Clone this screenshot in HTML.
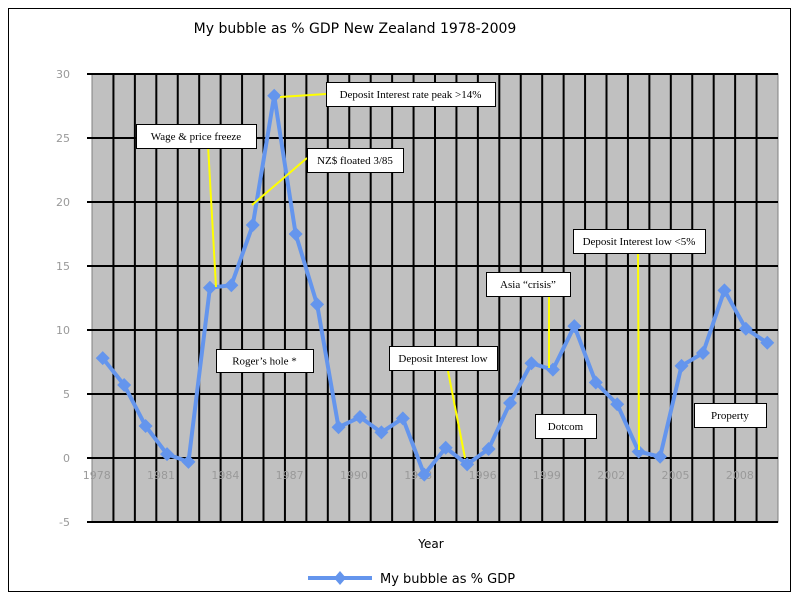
<!DOCTYPE html>
<html><head><meta charset="utf-8"><style>
body{margin:0;background:#fff}
svg text{font-family:"DejaVu Sans","Liberation Sans",sans-serif}
.ann{font-family:"Liberation Serif",serif;font-size:11px}
</style></head><body>
<svg width="800" height="600" xmlns="http://www.w3.org/2000/svg">
<rect x="8.5" y="8.5" width="782" height="583" fill="#fff" stroke="#000"/>
<text x="355" y="33" text-anchor="middle" font-size="14">My bubble as % GDP New Zealand 1978-2009</text>
<rect x="92" y="74" width="686" height="448" fill="#c0c0c0" stroke="#808080"/>
<g id="grid"></g>
<g id="ylab"></g>
<g id="xlab"></g>
<g id="series"></g>
<g stroke="#ffff00" stroke-width="2">
<line x1="280" y1="97" x2="326" y2="94"/>
<line x1="208" y1="145" x2="216" y2="287"/>
<line x1="307" y1="158" x2="252" y2="205"/>
<line x1="448" y1="371" x2="465" y2="458"/>
<line x1="549" y1="296" x2="549" y2="368"/>
<line x1="638" y1="253" x2="639" y2="450"/>
</g>
<g id="boxes"></g>
<text x="431" y="548" text-anchor="middle" font-size="12">Year</text>
<g>
<line x1="308" y1="578" x2="372" y2="578" stroke="#6495ED" stroke-width="4"/>
<path d="M340 571 L346 578 L340 585 L334 578Z" fill="#6495ED"/>
<text x="380" y="583" font-size="13">My bubble as % GDP</text>
</g>
</svg>
<script>
const years=[1978,1979,1980,1981,1982,1983,1984,1985,1986,1987,1988,1989,1990,1991,1992,1993,1994,1995,1996,1997,1998,1999,2000,2001,2002,2003,2004,2005,2006,2007,2008,2009];
const values=[7.8,5.7,2.5,0.3,-0.3,13.3,13.5,18.2,28.3,17.5,12.0,2.4,3.2,2.0,3.1,-1.3,0.8,-0.5,0.7,4.3,7.4,6.9,10.3,5.9,4.2,0.5,0.1,7.2,8.2,13.1,10.1,9.0];
const yTicks=[-5,0,5,10,15,20,25,30];
const xTickLabels=[1978,1981,1984,1987,1990,1993,1996,1999,2002,2005,2008];
const NS="http://www.w3.org/2000/svg";
const L=92,R=778,T=74,B=522,ymin=-5,ymax=30;
const bw=(R-L)/years.length;
const xs=i=>L+bw*(i+0.5);
const ys=v=>B-(v-ymin)/(ymax-ymin)*(B-T);
function mk(tag,a,parent){const e=document.createElementNS(NS,tag);for(const k in a)e.setAttribute(k,a[k]);parent.appendChild(e);return e;}
const grid=document.getElementById('grid');
for(let i=1;i<years.length;i++){const l=mk('line',{x1:L+bw*i,x2:L+bw*i,y1:T,y2:B,stroke:'#000','stroke-width':2},grid);

}
yTicks.forEach(t=>{const l=mk('line',{x1:L-5,x2:R,y1:ys(t),y2:ys(t),stroke:'#000','stroke-width':2},grid);


const tx=mk('text',{x:L-22,y:ys(t)+4,'text-anchor':'end','font-size':11,fill:'#999'},document.getElementById('ylab'));tx.textContent=t;

});
xTickLabels.forEach(y=>{const i=years.indexOf(y);const tx=mk('text',{x:xs(i)-6,y:ys(0)+21,'text-anchor':'middle','font-size':11,fill:'#999'},document.getElementById('xlab'));tx.textContent=y;

});
const s=document.getElementById('series');
const pl=mk('polyline',{points:values.map((v,i)=>xs(i)+','+ys(v)).join(' '),fill:'none',stroke:'#6495ED','stroke-width':4,'stroke-linejoin':'round'},s);


values.forEach((v,i)=>{const x=xs(i),y=ys(v);const p=mk('path',{d:`M${x} ${y-7}L${x+7} ${y}L${x} ${y+7}L${x-7} ${y}Z`,fill:'#6495ED'},s);

});
const boxes=[["Deposit Interest rate peak >14%",326,82,169,24],["Wage & price freeze",136,124,120,24],["NZ$ floated 3/85",307,148,96,24],["Roger\u2019s hole *",216,349,97,23],["Deposit Interest low",389,346,108,24],["Asia \u201ccrisis\u201d",486,272,84,24],["Deposit Interest low <5%",573,229,132,24],["Dotcom",535,414,61,24],["Property",694,403,72,24]];
const bg=document.getElementById('boxes');
boxes.forEach(b=>{const g=mk('g',{},bg);


mk('rect',{x:b[1]+.5,y:b[2]+.5,width:b[3],height:b[4],fill:'#fff',stroke:'#000'},g);
const t=mk('text',{x:b[1]+b[3]/2,y:b[2]+b[4]/2+4,'text-anchor':'middle',class:'ann'},g);t.textContent=b[0];});
</script>
</body></html>
